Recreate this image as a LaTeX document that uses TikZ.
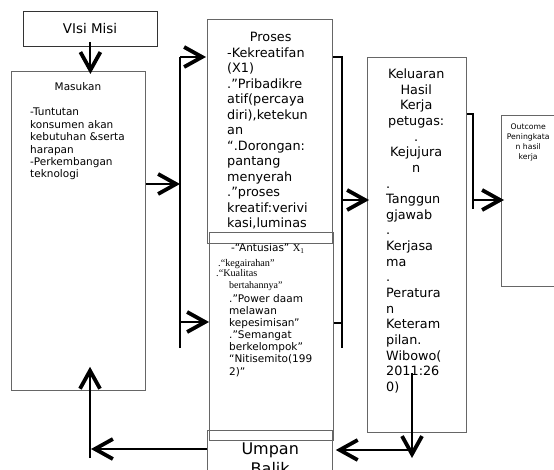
\documentclass[tikz,border=0pt]{standalone}
\usepackage{fontspec}
\setmainfont{DejaVu Sans}
\newfontfamily\tmsfont{Liberation Serif}
\usetikzlibrary{arrows.meta}
\tikzset{
  box/.style={draw=black!60, line width=0.8pt, anchor=north west, inner sep=0pt},
  arr/.style={line width=1.6pt, -{Straight Barb[length=18pt,width=20pt,line width=3.8pt]}},
  brk/.style={line width=2pt},
  txt/.style={inner sep=0pt, anchor=base west, text=black},
}
\begin{document}
\begin{tikzpicture}[x=1pt,y=-1pt]
\useasboundingbox (0,0) rectangle (554,470);
\clip (0,0) rectangle (554,470);
\fill[white] (0,0) rectangle (554,470);

% boxes
\node[box, draw=black!80, minimum width=134pt, minimum height=35pt] (visi) at (23,11) {};
\node[box, minimum width=134pt, minimum height=319pt] (masukan) at (11,71) {};
\node[box, minimum width=125pt, minimum height=224pt] (proses) at (207,19) {};
\node[box, minimum width=124pt, minimum height=208pt] (antusias) at (209,232) {};
\node[box, minimum width=125pt, minimum height=80pt] (umpan) at (207,430) {};
\node[box, minimum width=99pt, minimum height=375pt] (keluaran) at (367,57) {};
\node[box, minimum width=80pt, minimum height=171pt] (outcome) at (501,115) {};

% texts
\node[font=\fontsize{13.4}{16}\selectfont, inner sep=0pt] (visitext) at (90,29) {VIsi Misi};
\node[txt, anchor=base, font=\fontsize{10.5}{12.4}\selectfont] (mastitle) at (78,91) {Masukan};
\node[txt, text width=115pt, font=\fontsize{10.5}{12.4}\selectfont] (masbody) at (30,116)
  {-Tuntutan\\konsumen akan\\kebutuhan \&serta\\harapan\\-Perkembangan\\teknologi};
\node[txt, text width=87pt, font=\fontsize{12.8}{15.5}\selectfont] (prosestext) at (227,41.6)
  {{\centering Proses\par}\raggedright -Kekreatifan\\(X1)\\.”Pribadikre\\atif(percaya\\diri),ketekun\\an\\“.Dorongan:\\pantang\\menyerah\\.”proses\\kreatif:verivi\\kasi,luminas};
\node[txt, font=\fontsize{10.5}{12.2}\selectfont] (ant1) at (231,252) {-“Antusias” {\tmsfont X\textsubscript{1}}};
\node[txt, font=\tmsfont\fontsize{10.2}{12}\selectfont] (ant2) at (218,266.5) {.“kegairahan”};
\node[txt, font=\tmsfont\fontsize{10.2}{12}\selectfont] (ant3) at (216,276.5) {.“Kualitas};
\node[txt, font=\tmsfont\fontsize{10}{12}\selectfont] (ant4) at (229,289) {bertahannya”};
\node[txt, text width=100pt, font=\fontsize{10.5}{12.17}\selectfont] (antbody) at (229,302)
  {\raggedright .”Power daam\\melawan\\kepesimisan”\\.”Semangat\\berkelompok”\\“Nitisemito(199\\2)”};
\node[txt, text width=100pt, font=\fontsize{16}{19.5}\selectfont] (umpantext) at (220,454.5)
  {\centering Umpan\\Balik\par};
\node[txt, text width=60pt, font=\fontsize{12.8}{15.65}\selectfont] (keltext) at (386,78.5)
  {{\centering Keluaran\\Hasil\\Kerja\\petugas:\\.\\Kejujura\\n\par}\raggedright .\\Tanggun\\gjawab\\.\\Kerjasa\\ma\\.\\Peratura\\n\\Keteram\\pilan.\\Wibowo(\\2011:26\\0)};
\node[txt, text width=46pt, font=\fontsize{7.7}{10}\selectfont] (outtext) at (505,130)
  {\centering Outcome\\Peningkata\\n hasil\\kerja\par};

% coordinates for connectors
\coordinate (lbtop) at (180,57);
\coordinate (lbbot) at (180,348);
\coordinate (lbin) at (180,184);
\coordinate (lblow) at (180,322);
\coordinate (rbtop) at (342,57);
\coordinate (rbbot) at (342,348);
\coordinate (rbmid) at (342,200);
\coordinate (rblow) at (342,323);
\coordinate (kbtop) at (473,114);
\coordinate (kbbot) at (473,209);
\coordinate (kbmid) at (473,200);
\coordinate (fbtop) at (412,373);
\coordinate (fbbot) at (412,458);
\coordinate (fbh) at (412,450);
\coordinate (upl) at (90,449);
\coordinate (upb) at (90,458);

% connectors
\draw[arr, line width=2pt] ([yshift=5pt]visi.south) -- ([yshift=-3pt]visi.south |- masukan.north);
\draw[arr] (masukan.east |- lbin) -- (lbin);
\draw[brk] (lbbot) -- (lbtop);
\draw[arr] (lbtop) -- ([xshift=-1pt]proses.west |- lbtop);
\draw[arr] (lblow) -- (antusias.west |- lblow);
\draw[brk] (proses.east |- rbtop) -- (rbtop) -- (rbbot);
\draw[brk] (antusias.east |- rblow) -- (rblow);
\draw[arr] (rbmid) -- ([xshift=2pt]keluaran.west |- rbmid);
\draw[brk] (keluaran.east |- kbtop) -- (kbtop) -- (kbbot);
\draw[arr] (kbmid) -- ([xshift=3pt]outcome.west |- kbmid);
\draw[arr] (fbtop) -- (fbbot);
\draw[arr] (fbh) -- ([xshift=3pt]umpan.east |- fbh);
\draw[arr] (umpan.west |- upl) -- ([xshift=1pt]upl);
\draw[arr] (upb) -- ([yshift=24pt]masukan.south -| upb);
\end{tikzpicture}
\end{document}
